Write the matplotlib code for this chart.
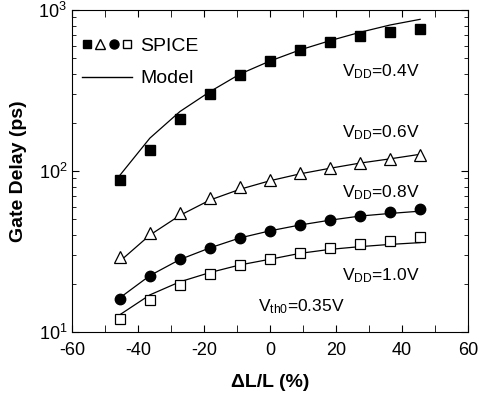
import matplotlib
matplotlib.use("Agg")
import matplotlib.pyplot as plt
from matplotlib.lines import Line2D
from matplotlib.legend_handler import HandlerTuple
from matplotlib.ticker import MultipleLocator, LogLocator

plt.rcParams['font.family'] = ['Liberation Sans', 'DejaVu Sans']
plt.rcParams['mathtext.fontset'] = 'custom'
plt.rcParams['mathtext.rm'] = 'Liberation Sans'
plt.rcParams['mathtext.it'] = 'Liberation Sans:italic'
plt.rcParams['mathtext.bf'] = 'Liberation Sans:bold'
plt.rcParams['axes.unicode_minus'] = False

# dL/L (%)
dl = [-45.5, -36.4, -27.3, -18.2, -9.1, 0, 9.1, 18.2, 27.3, 36.4, 45.5]

# SPICE points (ps)
spice_04 = [88, 136, 210, 302, 393, 482, 562, 633, 690, 727, 762]
spice_06 = [29.4, 41.4, 54.6, 67.7, 79, 88, 97, 105, 112, 118, 125]
spice_08 = [16.0, 22.3, 28.3, 33.1, 38.6, 42.4, 46.2, 49.6, 52.8, 55.4, 57.8]
spice_10 = [12.0, 15.7, 19.6, 22.9, 26.1, 28.3, 31.1, 33.1, 35.2, 36.7, 38.9]

# model curves (ps)
model_04 = [94, 160, 234, 311, 400, 482, 565, 645, 727, 807, 875]
model_06 = [27.5, 40, 53, 66, 77, 87, 96, 104, 112, 119, 127]
model_08 = [16.3, 22.4, 28.2, 33.3, 38.4, 42.5, 46.2, 49.5, 52.5, 54.5, 56.3]
model_10 = [12.8, 17.0, 20.5, 23.4, 26.1, 28.3, 30.8, 32.6, 33.9, 35.0, 35.9]

fig = plt.figure(figsize=(4.78, 4.0), dpi=100)
ax = fig.add_axes([0.1506, 0.17, 0.8284, 0.805])

for m in [model_04, model_06, model_08, model_10]:
    ax.plot(dl, m, color='black', lw=0.9)

ax.plot(dl, spice_04, 's', ms=7, mfc='black', mec='black', ls='none')
ax.plot(dl, spice_06, '^', ms=8.5, mfc='white', mec='black', mew=0.9, ls='none')
ax.plot(dl, spice_08, 'o', ms=7.5, mfc='black', mec='black', ls='none')
ax.plot(dl, spice_10, 's', ms=6.5, mfc='white', mec='black', mew=0.9, ls='none')

ax.set_yscale('log')
ax.set_xlim(-60, 60)
ax.set_ylim(10, 1000)
ax.xaxis.set_major_locator(MultipleLocator(20))
ax.xaxis.set_minor_locator(MultipleLocator(10))
ax.yaxis.set_minor_locator(LogLocator(base=10, subs=range(2, 10)))
ax.tick_params(which='both', direction='in', top=True, right=True, labelsize=13)
ax.tick_params(which='major', length=5)
ax.tick_params(which='minor', length=3)
ax.tick_params(axis='x', which='minor', length=5)
ax.tick_params(axis='x', pad=7)

ax.set_xlabel('ΔL/L (%)', fontsize=14, fontweight='bold', labelpad=11)
ax.set_ylabel('Gate Delay (ps)', fontsize=14, fontweight='bold', labelpad=8)

# legend proxies (smaller than the plotted markers)
p1 = Line2D([], [], marker='s', ms=6, mfc='black', mec='black', ls='none')
p2 = Line2D([], [], marker='^', ms=6.5, mfc='white', mec='black', mew=1.0, ls='none')
p3 = Line2D([], [], marker='o', ms=6.5, mfc='black', mec='black', ls='none')
p4 = Line2D([], [], marker='s', ms=6, mfc='white', mec='black', mew=1.0, ls='none')
pm = Line2D([], [], color='black', lw=1.0)
ax.legend([(p1, p2, p3, p4), pm], ['SPICE', 'Model'],
          handler_map={tuple: HandlerTuple(ndivide=None, pad=0.15)},
          loc='upper left', bbox_to_anchor=(0.025, 0.915), borderaxespad=0,
          borderpad=0, frameon=False, fontsize=14, handlelength=2.6,
          handletextpad=0.4, labelspacing=0.76)

ax.text(0.683, 0.81, 'V$_{\\rm DD}$=0.4V', transform=ax.transAxes, fontsize=12.5, va='center')
ax.text(0.683, 0.618, 'V$_{\\rm DD}$=0.6V', transform=ax.transAxes, fontsize=12.5, va='center')
ax.text(0.683, 0.432, 'V$_{\\rm DD}$=0.8V', transform=ax.transAxes, fontsize=12.5, va='center')
ax.text(0.683, 0.174, 'V$_{\\rm DD}$=1.0V', transform=ax.transAxes, fontsize=12.5, va='center')
ax.text(0.47, 0.078, 'V$_{\\rm th0}$=0.35V', transform=ax.transAxes, fontsize=12.5, va='center')

fig.savefig('out.png', dpi=100)
